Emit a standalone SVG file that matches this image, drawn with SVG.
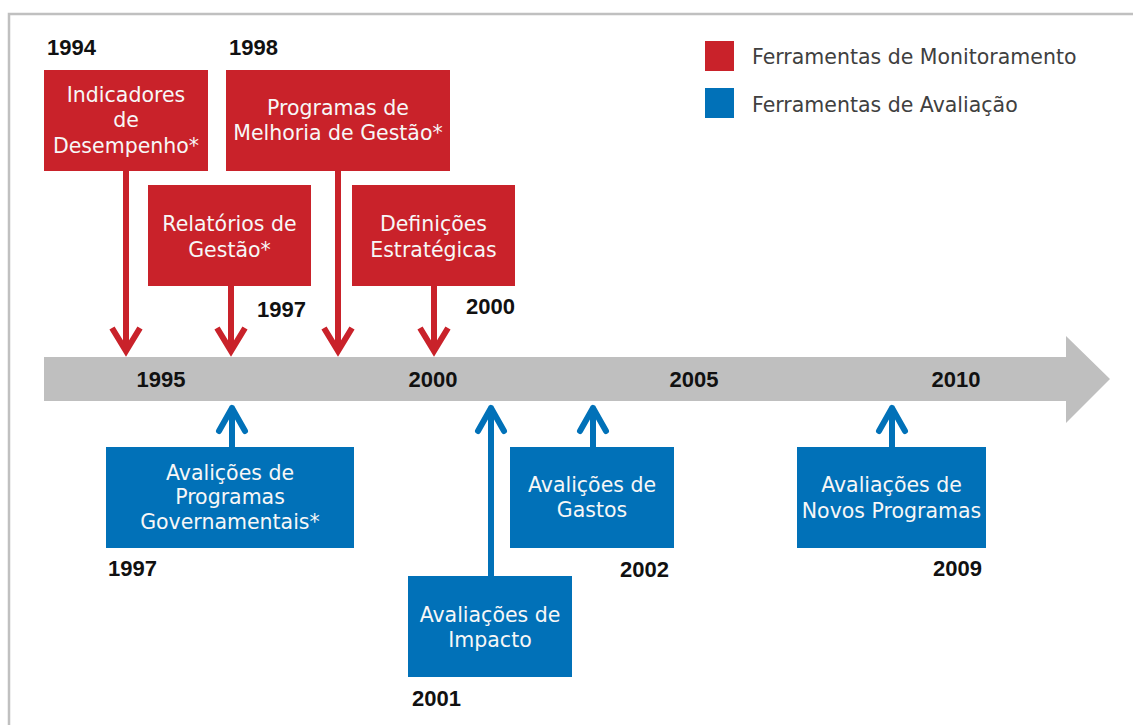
<svg xmlns="http://www.w3.org/2000/svg" width="1133" height="725" viewBox="0 0 1133 725">
<style>
.red{fill:#C9222A}
.blue{fill:#0171B8}
.bt{font-family:"DejaVu Sans",sans-serif;font-size:20.5px;fill:#F7F7F7;text-anchor:middle}
.yr{font-family:"Liberation Sans",Arial,sans-serif;font-weight:bold;font-size:22px;fill:#111}
.yrm{font-family:"Liberation Sans",Arial,sans-serif;font-weight:bold;font-size:22px;fill:#111;text-anchor:middle}
.lg{font-family:"DejaVu Sans",sans-serif;font-size:20.5px;fill:#404040}
.ra{stroke:#C9222A;stroke-width:6;fill:none;stroke-linejoin:miter}
.ba{stroke:#0171B8;stroke-width:6;fill:none;stroke-linecap:round;stroke-linejoin:round}
</style>
<rect x="0" y="0" width="1133" height="725" fill="#fff"/>
<path d="M9 725 V14 H1133" fill="none" stroke="#C0C0C0" stroke-width="2.5"/>

<g id="timeline">
<polygon points="44,357 1066,357 1066,336 1110,379 1066,423 1066,401 44,401" fill="#BFBFBF"/>
<text class="yrm" x="161" y="387">1995</text>
<text class="yrm" x="433" y="387">2000</text>
<text class="yrm" x="694" y="387">2005</text>
<text class="yrm" x="956" y="387">2010</text>
</g>

<g id="legend">
<rect class="red" x="705" y="41" width="29" height="30"/>
<text class="lg" x="752" y="64">Ferramentas de Monitoramento</text>
<rect class="blue" x="705" y="88" width="29" height="30"/>
<text class="lg" x="752" y="112">Ferramentas de Avaliação</text>
</g>

<g id="connectors">
<path class="ra" d="M126 171 V350 M112 328 L126 351 L140 328"/>
<path class="ra" d="M231 286 V350 M217 328 L231 351 L245 328"/>
<path class="ra" d="M338 171 V350 M324 328 L338 351 L352 328"/>
<path class="ra" d="M434 286 V350 M420 328 L434 351 L448 328"/>
<path class="ba" d="M232 447 V408 M219 431 L232 408 L245 431"/>
<path class="ba" d="M491 576 V408 M478 431 L491 408 L504 431"/>
<path class="ba" d="M593 447 V408 M580 431 L593 408 L606 431"/>
<path class="ba" d="M892 447 V408 M879 431 L892 408 L905 431"/>
</g>

<g id="n-indicadores">
<text class="yr" x="47" y="55">1994</text>
<rect class="red" x="44" y="70" width="164" height="101"/>
<text class="bt" x="126" y="102">Indicadores</text>
<text class="bt" x="126" y="127">de</text>
<text class="bt" x="126" y="153">Desempenho*</text>
</g>

<g id="n-programas">
<text class="yr" x="229" y="55">1998</text>
<rect class="red" x="226" y="70" width="224" height="101"/>
<text class="bt" x="338" y="115">Programas de</text>
<text class="bt" x="338" y="140">Melhoria de Gestão*</text>
</g>

<g id="n-relatorios">
<rect class="red" x="148" y="185" width="163" height="101"/>
<text class="bt" x="229.5" y="231">Relatórios de</text>
<text class="bt" x="229.5" y="257">Gestão*</text>
<text class="yr" x="257" y="317">1997</text>
</g>

<g id="n-definicoes">
<rect class="red" x="352" y="185" width="163" height="101"/>
<text class="bt" x="433.5" y="231">Definições</text>
<text class="bt" x="433.5" y="257">Estratégicas</text>
<text class="yr" x="466" y="314">2000</text>
</g>

<g id="n-avalprog">
<rect class="blue" x="106" y="447" width="248" height="101"/>
<text class="bt" x="230" y="480">Avalições de</text>
<text class="bt" x="230" y="504">Programas</text>
<text class="bt" x="230" y="529">Governamentais*</text>
<text class="yr" x="108" y="576">1997</text>
</g>

<g id="n-impacto">
<rect class="blue" x="408" y="576" width="164" height="101"/>
<text class="bt" x="490" y="622">Avaliações de</text>
<text class="bt" x="490" y="647">Impacto</text>
<text class="yr" x="412" y="706">2001</text>
</g>

<g id="n-gastos">
<rect class="blue" x="510" y="447" width="164" height="101"/>
<text class="bt" x="592" y="492">Avalições de</text>
<text class="bt" x="592" y="517">Gastos</text>
<text class="yr" x="620" y="577">2002</text>
</g>

<g id="n-novos">
<rect class="blue" x="797" y="447" width="189" height="101"/>
<text class="bt" x="891.5" y="492">Avaliações de</text>
<text class="bt" x="891.5" y="518">Novos Programas</text>
<text class="yr" x="933" y="576">2009</text>
</g>
</svg>
